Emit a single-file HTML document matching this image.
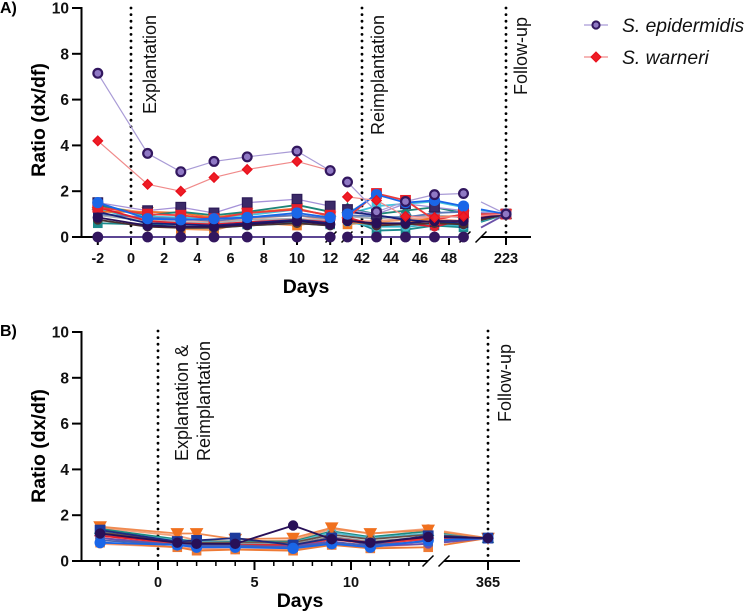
<!DOCTYPE html>
<html>
<head>
<meta charset="utf-8">
<title>Ratio dx/df chart</title>
<style>
html,body{margin:0;padding:0;background:#fff;}
svg{display:block;font-family:"Liberation Sans",Arial,sans-serif;}
.tick{font-size:14.5px;font-weight:bold;fill:#111;}
.title{font-size:19.5px;font-weight:bold;fill:#000;}
.note{font-size:18px;fill:#111;}
.leg{font-size:19.3px;font-style:italic;fill:#111;}
</style>
</head>
<body>
<svg id="chart" width="744" height="611" viewBox="0 0 744 611" xmlns="http://www.w3.org/2000/svg">
  <text x="0" y="13" font-size="16" font-weight="bold">A)</text>
  <text x="0" y="336" font-size="16" font-weight="bold">B)</text>
  <text class="title" transform="translate(45,120) rotate(-90)" text-anchor="middle">Ratio (dx/df)</text>
  <text class="title" transform="translate(45,446) rotate(-90)" text-anchor="middle">Ratio (dx/df)</text>
  <text class="title" x="306" y="293" text-anchor="middle">Days</text>
  <text class="title" x="300" y="607" text-anchor="middle">Days</text>
  <text class="note" transform="translate(156,114) rotate(-90)">Explantation</text>
  <text class="note" transform="translate(384,135) rotate(-90)">Reimplantation</text>
  <text class="note" transform="translate(527,95) rotate(-90)">Follow-up</text>
  <text class="note" transform="translate(188,461) rotate(-90)">Explantation &amp;</text>
  <text class="note" transform="translate(210,461) rotate(-90)">Reimplantation</text>
  <text class="note" transform="translate(511,422) rotate(-90)">Follow-up</text>
  <g id="panelA"></g>
  <g id="panelB"></g>
  <g>
    <g>
      <line x1="584" y1="25" x2="608" y2="25" stroke="#a99bd6" stroke-width="1.2"/>
      <circle cx="596" cy="25" r="3.6" fill="#8f78c4" stroke="#32175f" stroke-width="2"/>
      <text class="leg" x="622" y="32">S. epidermidis</text>
    </g>
    <g>
      <line x1="584" y1="57" x2="608" y2="57" stroke="#f08a8a" stroke-width="1.2"/>
      <path d="M596 52 L601 57 L596 62 L591 57 Z" fill="#ee1c25" stroke="#e8101c" stroke-width="1"/>
      <text class="leg" x="622" y="64">S. warneri</text>
    </g>
  </g>
</svg>
<script>
// Panel A data
const daysA = [-2, 1, 3, 5, 7, 10, 12, 41, 43, 45, 47, 49, 223];
const tickDaysA = [-2, 0, 2, 4, 6, 8, 10, 12, 42, 44, 46, 48, 223];
const tickValues = [0, 2, 4, 6, 8, 10];
const epidermidisA = [7.15, 3.65, 2.85, 3.3, 3.5, 3.75, 2.9, 2.4, 1.1, 1.55, 1.85, 1.9, 1];
const warneriA = [4.2, 2.3, 2.0, 2.6, 2.95, 3.3, 2.9, 1.75, 1.6, 0.9, 0.85, 0.9, 1];
const zeroA = [0, 0, 0, 0, 0, 0, 0, 0, 0, 0, 0, 0, 1];
const tealSquareA = [0.6, 0.55, 0.45, 0.4, 0.55, 0.65, 0.55, 0.8, 0.28, 0.32, 0.5, 0.42, 1];
const tealTriA = [1.4, 0.95, 1.1, 0.95, 1.1, 1.4, 1.1, 1.25, 1.0, 1.15, 1.3, 1.05, 1];
const cyanA = [1.45, 0.9, 0.85, 0.85, 0.95, 1.2, 0.95, 1.0, 1.35, 1.45, 1.55, 1.3, 1];
const lightCyanA = [1.2, 0.75, 0.4, 0.4, 0.5, 0.6, 0.5, 0.65, 0.45, 0.45, 0.55, 0.5, 1];
const orangeA = [1.35, 1.05, 0.35, 0.3, 0.65, 0.5, 0.75, 0.55, 0.65, 0.75, 0.75, 0.65, 1];
const orangeTwoA = [1.1, 1.1, 1.05, 0.85, 1.05, 1.25, 0.9, 0.65, 0.55, 0.6, 0.85, 0.95, 1];
const salmonA = [1.05, 0.75, 0.75, 0.65, 0.8, 0.95, 0.7, 0.7, 0.7, 0.8, 0.8, 0.7, 1];
const greyA = [0.95, 0.7, 0.65, 0.6, 0.75, 0.8, 0.7, 0.9, 0.8, 0.9, 0.95, 0.85, 1];
const steelA = [1.0, 0.85, 0.8, 0.7, 0.85, 0.95, 0.8, 0.95, 0.9, 0.85, 1.05, 1.1, 1];
const redCircleA = [1.3, 0.7, 0.6, 0.55, 0.65, 0.75, 0.65, 0.85, 0.5, 0.6, 0.45, 0.75, 1];
const navyA = [1.1, 0.6, 0.55, 0.5, 0.6, 0.75, 0.6, 1.1, 0.95, 0.75, 0.65, 0.6, 1];
const brownA = [0.75, 0.45, 0.4, 0.4, 0.5, 0.6, 0.5, 0.75, 0.5, 0.55, 0.6, 0.55, 1];
const darkCircleA = [0.85, 0.5, 0.45, 0.45, 0.55, 0.7, 0.55, 0.7, 0.6, 0.6, 0.7, 0.7, 1];
const purpleSquareA = [1.5, 1.15, 1.3, 1.05, 1.5, 1.65, 1.35, 1.2, 1.0, 1.45, 1.3, 1.15, 1];
const redSquareA = [1.3, 1.0, 0.95, 0.8, 1.05, 1.2, 0.95, 0.85, 1.9, 1.6, 0.75, 1.0, 1];
const blueA = [1.5, 0.8, 0.75, 0.8, 0.85, 1.05, 0.85, 1.0, 1.85, 1.5, 1.6, 1.35, 1];

// Panel B data
const daysB = [-3, 1, 2, 4, 7, 9, 11, 14, 365];
const minorTickDaysB = [-3, -2, -1, 1, 2, 3, 4, 6, 7, 8, 9, 11, 12, 13];
const majorTickDaysB = [0, 5, 10, 365];
const orangeDownB = [1.5, 1.2, 1.2, 0.95, 1.0, 1.45, 1.2, 1.35, 1];
const peachB = [1.45, 1.1, 0.9, 0.85, 0.9, 1.4, 1.2, 1.4, 1];
const tealB = [1.4, 0.95, 0.85, 0.85, 0.85, 1.3, 1.05, 1.3, 1];
const cyanB = [1.3, 0.9, 0.85, 0.8, 0.8, 1.25, 1.0, 1.2, 1];
const brownB = [1.25, 0.85, 0.8, 0.8, 0.8, 1.15, 0.95, 1.15, 1];
const greyB = [1.15, 0.8, 0.75, 0.75, 0.75, 1.05, 0.85, 1.05, 1];
const redB = [1.1, 0.8, 0.7, 0.7, 0.7, 1.0, 0.8, 1.0, 1];
const redTwoB = [1.0, 0.75, 0.65, 0.65, 0.65, 0.95, 0.75, 0.95, 1];
const salmonB = [0.75, 0.6, 0.55, 0.5, 0.5, 0.7, 0.6, 0.75, 1];
const orangeLowB = [0.8, 0.6, 0.45, 0.5, 0.45, 0.7, 0.55, 0.6, 1];
const purpleB = [1.0, 0.7, 0.6, 0.6, 0.65, 0.85, 0.65, 0.75, 1];
const steelB = [0.9, 0.72, 0.68, 0.68, 0.6, 0.8, 0.7, 0.85, 1];
const navySquareB = [1.35, 0.85, 0.9, 1.0, 0.7, 1.0, 0.75, 1.1, 1];
const darkCircleB = [1.2, 0.8, 0.75, 0.75, 1.55, 0.95, 0.8, 1.05, 1];
const blueB = [0.8, 0.7, 0.6, 0.6, 0.55, 0.75, 0.6, 0.9, 1];

const NS = 'http://www.w3.org/2000/svg';
function mk(parent, tag, attrs) {
  const el = document.createElementNS(NS, tag);
  for (const k in attrs) el.setAttribute(k, attrs[k]);
  parent.appendChild(el);
  return el;
}

function xA(d) {
  if (d <= 12) return 131 + 16.6 * d;
  if (d <= 49) return 362 + 14.5 * (d - 42);
  return 506;
}
function xB(d) {
  if (d <= 14) return 158 + 19.3 * d;
  return 488;
}
function yA(v) { return 237 - 22.9 * v; }
function yB(v) { return 561 - 22.9 * v; }

function marker(g, shape, x, y, r, fill, stroke, sw) {
  let el;
  if (shape === 'circle') {
    el = mk(g, 'circle', { cx: x, cy: y, r: r });
  } else if (shape === 'square') {
    el = mk(g, 'rect', { x: x - r, y: y - r, width: 2 * r, height: 2 * r });
  } else if (shape === 'diamond') {
    el = mk(g, 'path', { d: `M${x} ${y - r - 1}L${x + r + 1} ${y}L${x} ${y + r + 1}L${x - r - 1} ${y}Z` });
  } else if (shape === 'up') {
    el = mk(g, 'path', { d: `M${x} ${y - r - 1}L${x + r + 1} ${y + r}L${x - r - 1} ${y + r}Z` });
  } else {
    el = mk(g, 'path', { d: `M${x} ${y + r + 1}L${x + r + 1} ${y - r}L${x - r - 1} ${y - r}Z` });
  }
  el.setAttribute('fill', fill);
  el.setAttribute('stroke', stroke);
  el.setAttribute('stroke-width', sw);
  
  
}

function series(parent, name, values, opts, style) {
  const g = mk(parent, 'g', {});
  
  
  const n = values.length;
  for (let i = 0; i < n - 1; i++) {
    if (i === opts.gapAfter) continue;
    let x1 = opts.xf(opts.days[i]), y1 = opts.yf(values[i]);
    const x2 = opts.xf(opts.days[i + 1]), y2 = opts.yf(values[i + 1]);
    if (i === n - 2) {
      const t = (opts.breakX - x1) / (x2 - x1);
      y1 = y1 + (y2 - y1) * t;
      x1 = opts.breakX;
    }
    const ln = mk(g, 'line', { x1: x1, y1: y1, x2: x2, y2: y2, stroke: style.line, 'stroke-width': style.lw || 1.8 });
    
    
  }
  for (let i = 0; i < n; i++) {
    marker(g, style.shape, opts.xf(opts.days[i]), opts.yf(values[i]), style.r || 4.2, style.fill, style.stroke, style.sw || 1.2);
  }
}

function yAxis(parent, yf) {
  const g = mk(parent, 'g', {});
  
  
  mk(g, 'line', { x1: 81.5, y1: yf(10) - 1, x2: 81.5, y2: yf(0) + 1, stroke: '#000', 'stroke-width': 2 });
  tickValues.forEach(v => {
    mk(g, 'line', { x1: 72, y1: yf(v), x2: 81.5, y2: yf(v), stroke: '#000', 'stroke-width': 2 });
    const t = mk(g, 'text', { x: 69, y: yf(v) + 5.5, 'text-anchor': 'end', class: 'tick', style: 'font-size:15.5px' });
    
    
    t.textContent = v;
  });
}

function dotted(parent, x, y1, y2) {
  const ln = mk(parent, 'line', { x1: x, y1: y1, x2: x, y2: y2, stroke: '#000', 'stroke-width': 2.8, 'stroke-linecap': 'round', 'stroke-dasharray': '0 6.6' });
  
  
}

function slash(parent, x, y) {
  const ln = mk(parent, 'line', { x1: x - 5.5, y1: y + 5.5, x2: x + 5.5, y2: y - 5.5, stroke: '#000', 'stroke-width': 1.5 });
  
  
}

function axisSeg(parent, x1, x2, y) {
  const ln = mk(parent, 'line', { x1: x1, y1: y, x2: x2, y2: y, stroke: '#000', 'stroke-width': 2 });
  
  
}

// ---------- Panel A ----------
const pA = document.getElementById('panelA');
yAxis(pA, yA);
axisSeg(pA, 81, 331, 237);
axisSeg(pA, 347, 465, 237);
axisSeg(pA, 481, 531, 237);
tickDaysA.forEach(d => {
  mk(pA, 'line', { x1: xA(d), y1: 237, x2: xA(d), y2: 245, stroke: '#000', 'stroke-width': 2 });
  const t = mk(pA, 'text', { x: xA(d), y: 263, 'text-anchor': 'middle', class: 'tick' });
  
  
  t.textContent = d;
});
slash(pA, 331, 237); slash(pA, 347, 237); slash(pA, 465, 237); slash(pA, 481, 237);
[131, 362, 506].forEach(x => dotted(pA, x, 8, 237));

const optA = { days: daysA, xf: xA, yf: yA, gapAfter: 6, breakX: 481 };
series(pA, 'series-teal-square', tealSquareA, optA, { shape: 'square', line: '#1c8a8c', fill: '#1c8a8c', stroke: '#1c8a8c' });
series(pA, 'series-orange-square', orangeA, optA, { shape: 'square', line: '#f39a5c', fill: '#f07a22', stroke: '#f07a22' });
series(pA, 'series-light-cyan', lightCyanA, optA, { shape: 'circle', line: '#3fb6cc', fill: '#3fb6cc', stroke: '#3fb6cc' });
series(pA, 'series-salmon', salmonA, optA, { shape: 'circle', line: '#f2a58e', fill: '#f2a58e', stroke: '#f2a58e' });
series(pA, 'series-grey', greyA, optA, { shape: 'circle', line: '#a9b0b5', fill: '#a9b0b5', stroke: '#a9b0b5' });
series(pA, 'series-cyan', cyanA, optA, { shape: 'square', line: '#45c4dc', fill: '#45c4dc', stroke: '#45c4dc' });
series(pA, 'series-orange-two', orangeTwoA, optA, { shape: 'down', line: '#f0752a', fill: '#f0752a', stroke: '#f0752a' });
series(pA, 'series-teal-triangle', tealTriA, optA, { shape: 'up', line: '#1d8578', fill: '#1d8578', stroke: '#1d8578' });
series(pA, 'series-steel', steelA, optA, { shape: 'square', line: '#5a78b8', fill: '#5a78b8', stroke: '#5a78b8' });
series(pA, 'series-red-circle', redCircleA, optA, { shape: 'circle', line: '#e02030', fill: '#e02030', stroke: '#e02030' });
series(pA, 'series-navy', navyA, optA, { shape: 'square', line: '#17207a', fill: '#17207a', stroke: '#17207a' });
series(pA, 'series-brown', brownA, optA, { shape: 'circle', line: '#4a3030', fill: '#4a3030', stroke: '#4a3030' });
series(pA, 'series-zero', zeroA, optA, { shape: 'circle', line: '#6a50a8', fill: '#33175f', stroke: '#33175f', r: 4.8, lw: 1.8 });
series(pA, 'series-purple-square', purpleSquareA, optA, { shape: 'square', line: '#a592d8', fill: '#3b2a68', stroke: '#2c1b58', r: 4.8, lw: 1.3 });
series(pA, 'series-red-square', redSquareA, optA, { shape: 'square', line: '#ee3a3a', fill: '#e8202a', stroke: '#e8202a', r: 4.8 });
series(pA, 'series-dark-circle', darkCircleA, optA, { shape: 'circle', line: '#281058', fill: '#281058', stroke: '#281058', r: 4.6 });
series(pA, 'series-blue', blueA, optA, { shape: 'circle', line: '#1a66e8', fill: '#1a66e8', stroke: '#1a66e8', r: 5 });
series(pA, 'series-s-warneri', warneriA, optA, { shape: 'diamond', line: '#f08a8a', fill: '#ee1c25', stroke: '#e8101c', r: 3.8, lw: 1.2 });
series(pA, 'series-s-epidermidis', epidermidisA, optA, { shape: 'circle', line: '#a99bd6', fill: '#8f78c4', stroke: '#32175f', r: 4.4, sw: 2.2, lw: 1.2 });

// ---------- Panel B ----------
const pB = document.getElementById('panelB');
yAxis(pB, yB);
axisSeg(pB, 81, 428, 561);
axisSeg(pB, 444, 520, 561);
minorTickDaysB.forEach(d => {
  mk(pB, 'line', { x1: xB(d), y1: 561, x2: xB(d), y2: 566, stroke: '#000', 'stroke-width': 1.5 });
});
majorTickDaysB.forEach(d => {
  mk(pB, 'line', { x1: xB(d), y1: 561, x2: xB(d), y2: 570, stroke: '#000', 'stroke-width': 2 });
  const t = mk(pB, 'text', { x: xB(d), y: 587, 'text-anchor': 'middle', class: 'tick' });
  
  
  t.textContent = d;
});
slash(pB, 428, 561); slash(pB, 444, 561);
[158, 488].forEach(x => dotted(pB, x, 331, 561));

const optB = { days: daysB, xf: xB, yf: yB, gapAfter: -1, breakX: 444 };
series(pB, 'series-peach', peachB, optB, { shape: 'circle', line: '#f2a27c', fill: '#f2a27c', stroke: '#f2a27c' });
series(pB, 'series-salmon', salmonB, optB, { shape: 'circle', line: '#f0a890', fill: '#f0a890', stroke: '#f0a890' });
series(pB, 'series-orange-low', orangeLowB, optB, { shape: 'square', line: '#ee7a35', fill: '#ee7a35', stroke: '#ee7a35' });
series(pB, 'series-teal', tealB, optB, { shape: 'up', line: '#1d8a80', fill: '#1d8a80', stroke: '#1d8a80' });
series(pB, 'series-cyan', cyanB, optB, { shape: 'circle', line: '#55bcd0', fill: '#55bcd0', stroke: '#55bcd0' });
series(pB, 'series-brown', brownB, optB, { shape: 'circle', line: '#6a5048', fill: '#6a5048', stroke: '#6a5048' });
series(pB, 'series-grey', greyB, optB, { shape: 'circle', line: '#8c9094', fill: '#8c9094', stroke: '#8c9094' });
series(pB, 'series-red', redB, optB, { shape: 'diamond', line: '#e8202a', fill: '#e8202a', stroke: '#e8202a' });
series(pB, 'series-red-two', redTwoB, optB, { shape: 'circle', line: '#ee3a3a', fill: '#ee3a3a', stroke: '#ee3a3a' });
series(pB, 'series-purple', purpleB, optB, { shape: 'circle', line: '#6a50b0', fill: '#6a50b0', stroke: '#6a50b0' });
series(pB, 'series-steel', steelB, optB, { shape: 'square', line: '#4a62b0', fill: '#4a62b0', stroke: '#4a62b0' });
series(pB, 'series-orange-down', orangeDownB, optB, { shape: 'down', line: '#f08a50', fill: '#f0701e', stroke: '#f0701e', r: 4.8 });
series(pB, 'series-navy-square', navySquareB, optB, { shape: 'square', line: '#1d2a80', fill: '#1d3a9c', stroke: '#1d3a9c', r: 4.8 });
series(pB, 'series-blue', blueB, optB, { shape: 'circle', line: '#1a66e8', fill: '#1a66e8', stroke: '#1a66e8', r: 5 });
series(pB, 'series-dark-circle', darkCircleB, optB, { shape: 'circle', line: '#281058', fill: '#281058', stroke: '#281058', r: 4.6 });
</script>
</body>
</html>
